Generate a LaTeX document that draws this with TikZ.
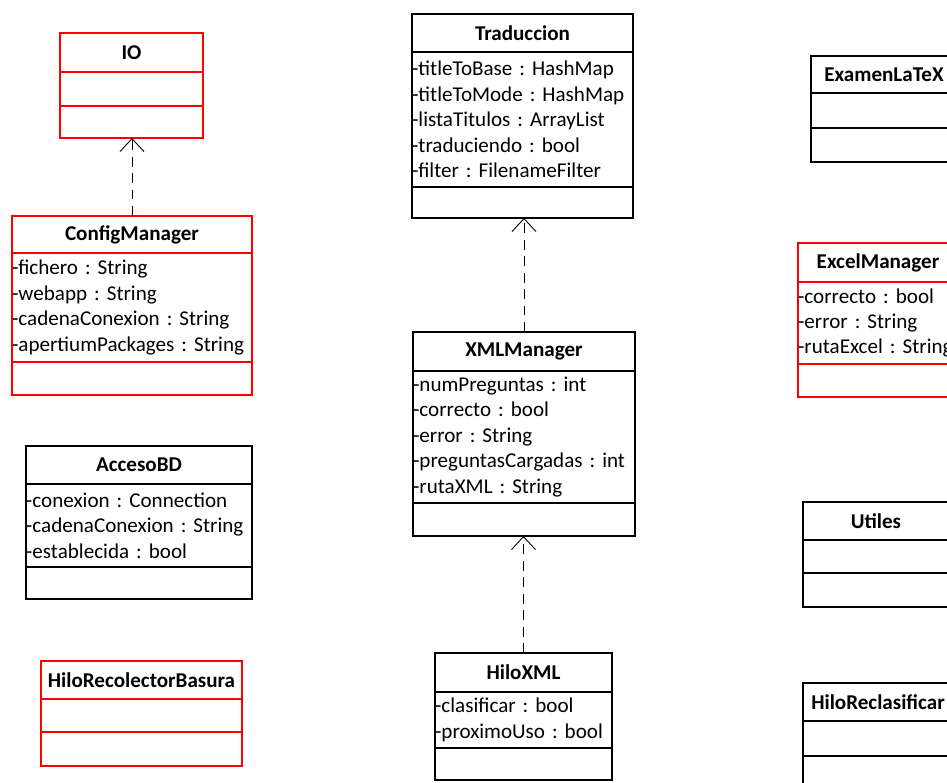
\documentclass[tikz,border=0pt]{standalone}
\usepackage{fontspec}
\setmainfont{Carlito}
\usetikzlibrary{arrows.meta,positioning}
\definecolor{umlred}{HTML}{FF0000}
\newcommand\umlfont{\fontsize{12}{14.5}\selectfont\frenchspacing}
\tikzset{
  % clases
  cls/.style={draw,line width=0.9pt,inner sep=0pt,outer sep=0pt,font=\umlfont},
  hd/.style 2 args={cls,font=\umlfont\bfseries,minimum width=#1,minimum height=#2,
                    anchor=north west},
  cp/.style 2 args={cls,align=left,text width=#1,minimum height=#2},
  alarm/.style={draw=umlred},
  % relaciones
  realiz/.style={draw,line width=0.5pt,dash pattern=on 0.2cm off 0.13cm,
                 -{Straight Barb[length=2.6mm,width=4.8mm]}},
}
\begin{document}
\begin{tikzpicture}[x=0.02cm,y=-0.02cm]
  \useasboundingbox (0,0) rectangle (947,783);
  \clip (0,0) rectangle (947,783);
  % columna izquierda
  \node[hd={2.86cm}{0.78cm},alarm] (io) at (60,33) {IO};
  \node[cp={2.86cm}{0.68cm},alarm,below=0pt of io] (io-a) {};
  \node[cp={2.86cm}{0.64cm},alarm,below=0pt of io-a] (io-m) {};
  \node[hd={4.80cm}{0.74cm},alarm] (cfg) at (12,216) {ConfigManager};
  \node[cp={4.80cm}{2.18cm},alarm,below=0pt of cfg] (cfg-a)
    {-fichero : String\\-webapp : String\\-cadenaConexion : String\\-apertiumPackages : String};
  \node[cp={4.80cm}{0.66cm},alarm,below=0pt of cfg-a] (cfg-m) {};
  \node[hd={4.52cm}{0.76cm}] (bd) at (26,446) {AccesoBD};
  \node[cp={4.52cm}{1.66cm},below=0pt of bd] (bd-a)
    {-conexion : Connection\\-cadenaConexion : String\\-establecida : bool};
  \node[cp={4.52cm}{0.64cm},below=0pt of bd-a] (bd-m) {};
  \node[hd={4.02cm}{0.76cm},alarm] (hrb) at (41,661) {HiloRecolectorBasura};
  \node[cp={4.02cm}{0.66cm},alarm,below=0pt of hrb] (hrb-a) {};
  \node[cp={4.02cm}{0.68cm},alarm,below=0pt of hrb-a] (hrb-m) {};
  % columna central
  \node[hd={4.42cm}{0.76cm}] (trad) at (412,14) {Traduccion};
  \node[cp={4.42cm}{2.70cm},below=0pt of trad] (trad-a)
    {-titleToBase : HashMap\\-titleToMode : HashMap\\-listaTitulos : ArrayList\\-traduciendo : bool\\-filter : FilenameFilter};
  \node[cp={4.42cm}{0.62cm},below=0pt of trad-a] (trad-m) {};
  \node[hd={4.44cm}{0.78cm}] (xml) at (413,332) {XMLManager};
  \node[cp={4.44cm}{2.64cm},below=0pt of xml] (xml-a)
    {-numPreguntas : int\\-correcto : bool\\-error : String\\-preguntasCargadas : int\\-rutaXML : String};
  \node[cp={4.44cm}{0.66cm},below=0pt of xml-a] (xml-m) {};
  \node[hd={3.54cm}{0.78cm}] (hxml) at (435,653) {HiloXML};
  \node[cp={3.54cm}{1.12cm},below=0pt of hxml] (hxml-a)
    {-clasificar : bool\\-proximoUso : bool};
  \node[cp={3.54cm}{0.64cm},below=0pt of hxml-a] (hxml-m) {};
  % columna derecha
  \node[hd={2.92cm}{0.74cm}] (exam) at (811,56) {ExamenLaTeX};
  \node[cp={2.92cm}{0.70cm},below=0pt of exam] (exam-a) {};
  \node[cp={2.92cm}{0.68cm},below=0pt of exam-a] (exam-m) {};
  \node[hd={3.20cm}{0.78cm},alarm] (excel) at (798,243) {ExcelManager};
  \node[cp={3.20cm}{1.64cm},alarm,below=0pt of excel] (excel-a)
    {-correcto : bool\\-error : String\\-rutaExcel : String};
  \node[cp={3.20cm}{0.66cm},alarm,below=0pt of excel-a] (excel-m) {};
  \node[hd={2.92cm}{0.76cm}] (util) at (803,502) {Utiles};
  \node[cp={2.92cm}{0.66cm},below=0pt of util] (util-a) {};
  \node[cp={2.92cm}{0.68cm},below=0pt of util-a] (util-m) {};
  \node[hd={3.00cm}{0.76cm}] (hrec) at (803,683) {HiloReclasificar};
  \node[cp={3.00cm}{0.70cm},below=0pt of hrec] (hrec-a) {};
  \node[cp={3.00cm}{0.68cm},below=0pt of hrec-a] (hrec-m) {};
  % realizaciones
  \draw[realiz] (cfg.north) -- (cfg.north |- io-m.south);
  \draw[realiz] (xml.north) -- (xml.north |- trad-m.south);
  \draw[realiz] (hxml.north) -- (hxml.north |- xml-m.south);
\end{tikzpicture}
\end{document}
